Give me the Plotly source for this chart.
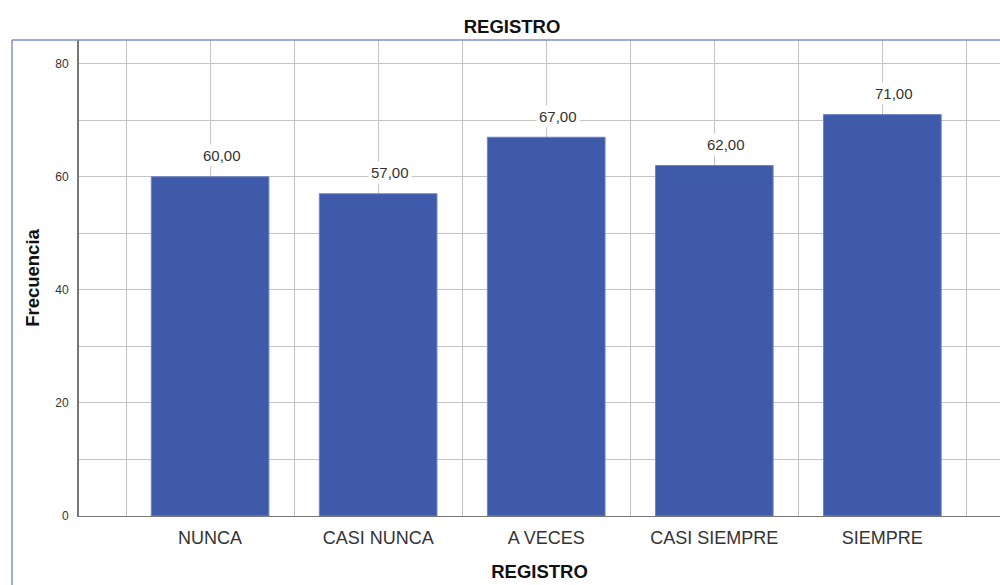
import plotly.graph_objects as go

categories = ["NUNCA", "CASI NUNCA", "A VECES", "CASI SIEMPRE", "SIEMPRE"]
frecuencia = [60, 57, 67, 62, 71]
y_ticks = [0, 20, 40, 60, 80]

FONT = "Arial, 'Liberation Sans', sans-serif"
xs = list(range(len(categories)))

fig = go.Figure()
fig.add_trace(go.Bar(
    x=xs, y=frecuencia, width=0.70,
    marker=dict(color="#3e5aa8", line=dict(color="#6c84c8", width=1)),
    hoverinfo="skip",
))

for x, v in zip(xs, frecuencia):
    fig.add_annotation(
        x=x, y=v, xref="x", yref="y",
        text=f"{v:.2f}".replace(".", ","),
        showarrow=False, yshift=21, xshift=12,
        font=dict(family=FONT, size=15, color="#333333"),
        bgcolor="white", borderpad=2,
    )

fig.update_layout(
    width=1000, height=585,
    margin=dict(l=79, r=0, t=40, b=69),
    plot_bgcolor="white", paper_bgcolor="white",
    showlegend=False,
    bargap=0.3,
    title=dict(text="<b>REGISTRO</b>", x=0.512, xanchor="center", y=0.955, yanchor="middle",
               font=dict(family=FONT, size=18.5, color="#111111")),
    xaxis=dict(
        range=[-0.78, 4.70],
        tickvals=xs, ticktext=categories,
        tickfont=dict(family=FONT, size=18, color="#333333"),
        showgrid=True, gridcolor="#c4c4c4", gridwidth=1,
        minor=dict(dtick=0.5, tick0=0, showgrid=True, gridcolor="#c4c4c4", gridwidth=1),
        showline=True, linecolor="#777777", linewidth=1,
        ticks="", ticklabelstandoff=5,
        zeroline=False,
        title=dict(text="<b>REGISTRO</b>", font=dict(family=FONT, size=18.5, color="#111111"), standoff=18),
    ),
    yaxis=dict(
        range=[0, 84.2],
        tickvals=y_ticks,
        tickfont=dict(family=FONT, size=12, color="#333333"),
        showgrid=True, gridcolor="#c4c4c4", gridwidth=1,
        minor=dict(dtick=10, showgrid=True, gridcolor="#c4c4c4", gridwidth=1),
        showline=True, linecolor="#777777", linewidth=2,
        ticks="", ticklabelstandoff=6,
        zeroline=False,
        title=dict(text="<b>Frecuencia</b>", font=dict(family=FONT, size=18.5, color="#111111"), standoff=11),
    ),
    shapes=[
        dict(type="line", xref="paper", yref="paper", x0=(12 - 79) / 921, x1=1, y0=1, y1=1,
             line=dict(color="#7d8fcc", width=1.5)),
        dict(type="line", xref="paper", yref="paper", x0=(12 - 79) / 921, x1=(12 - 79) / 921, y0=1, y1=-69 / 476,
             line=dict(color="#7d8fcc", width=1.5)),
    ],
)

fig.write_html("out.html")
